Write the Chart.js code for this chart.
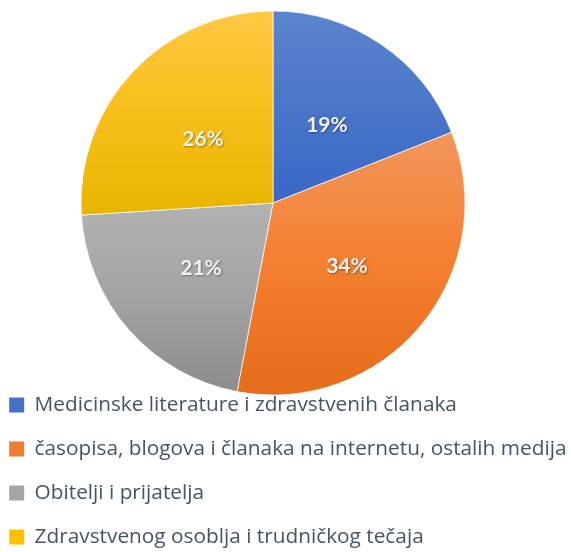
<!DOCTYPE html>
<html>
<head>
<meta charset="utf-8">
<script src="https://cdn.jsdelivr.net/npm/chart.js@4"></script>
<style>
  html, body { margin: 0; padding: 0; background: #ffffff; }
  #wrap { width: 571px; height: 552px; }
</style>
</head>
<body>
<div id="wrap"><canvas id="pie"></canvas></div>
<script>
// chart data
const categories = [
  "Medicinske literature i zdravstvenih članaka",
  "časopisa, blogova i članaka na internetu, ostalih medija",
  "Obitelji i prijatelja",
  "Zdravstvenog osoblja i trudničkog tečaja",
];
const shares = [19, 34, 21, 26];
const pctLabels = ["19%", "34%", "21%", "26%"];

// gradient stops per slice, light at top to dark at bottom
const sliceStops = [
  ["#5B84CE", "#4A76C9", "#3867C6"],
  ["#F2965C", "#F47F2F", "#E46C1A"],
  ["#B2B2B2", "#A3A3A3", "#8C8C8C"],
  ["#FFC843", "#F7BE1A", "#E8B500"],
];
const legendColors = ["#4472C4", "#ED7D31", "#A5A5A5", "#FFC000"];
const RADIUS = 192;
const CENTER_X = 273;

/* vertical extent of one slice, so each wedge gets its own gradient */
function sliceGradient(chart, i) {
  const area = chart.chartArea;
  if (!area) return legendColors[i];
  const cx = (area.left + area.right) / 2;
  const cy = (area.top + area.bottom) / 2;
  const total = shares.reduce((a, b) => a + b, 0);
  let before = 0;
  for (let k = 0; k < i; k++) before += shares[k];
  const a0 = -Math.PI / 2 + (before / total) * Math.PI * 2;
  const a1 = a0 + (shares[i] / total) * Math.PI * 2;
  let minY = cy, maxY = cy;
  for (let s = 0; s <= 60; s++) {
    const y = cy + RADIUS * Math.sin(a0 + (a1 - a0) * s / 60);
    minY = Math.min(minY, y);
    maxY = Math.max(maxY, y);
  }
  const g = chart.ctx.createLinearGradient(0, minY, 0, maxY);
  const st = sliceStops[i];
  g.addColorStop(0, st[0]);
  g.addColorStop(0.5, st[1]);
  g.addColorStop(1, st[2]);
  return g;
}

// legend needs the full width, the pie sits a bit left of centre
const shiftPie = {
  id: "shiftPie",
  afterLayout(chart) {
    const a = chart.chartArea;
    a.left = CENTER_X - RADIUS;
    a.right = CENTER_X + RADIUS;
    a.width = a.right - a.left;
  },
};

const pctPlugin = {
  id: "pctLabels",
  afterDatasetsDraw(chart) {
    const ctx = chart.ctx;
    const meta = chart.getDatasetMeta(0);
    ctx.save();
    ctx.font = "bold 21px Lato, 'Open Sans', sans-serif";
    ctx.textAlign = "center";
    ctx.textBaseline = "middle";
    ctx.fillStyle = "#F2F2F2";
    ctx.shadowColor = "rgba(0,0,0,0.35)";
    ctx.shadowBlur = 2;
    ctx.shadowOffsetX = 1;
    ctx.shadowOffsetY = 1;
    meta.data.forEach((arc, i) => {
      const p = arc.tooltipPosition();
      ctx.fillText(pctLabels[i], p.x, p.y + 2);
    });
    ctx.restore();
  },
};

new Chart(document.getElementById("pie"), {
  type: "pie",
  data: {
    labels: categories,
    datasets: [
      {
        data: shares,
        radius: RADIUS,
        backgroundColor: (c) => sliceGradient(c.chart, c.dataIndex),
        borderColor: "rgba(255,255,255,0.7)",
        borderWidth: 1,
        clip: false,
      },
    ],
  },
  options: {
    responsive: true,
    maintainAspectRatio: false,
    animation: false,
    layout: { padding: { top: 34.6, bottom: -5.4, left: -14, right: -14 } },
    plugins: {
      tooltip: { enabled: false },
      legend: {
        position: "bottom",
        align: "start",
        labels: {
          color: "#44546A",
          font: { family: "'Open Sans', sans-serif", size: 20.8 },
          boxWidth: 15,
          boxHeight: 15,
          padding: 23.2,
          generateLabels: (chart) =>
            categories.map((t, i) => ({
              text: t,
              fillStyle: legendColors[i],
              strokeStyle: legendColors[i],
              lineWidth: 0,
              index: i,
              datasetIndex: 0,
              fontColor: "#44546A",
            })),
        },
      },
    },
  },
  plugins: [shiftPie, pctPlugin],
});
</script>
</body>
</html>
